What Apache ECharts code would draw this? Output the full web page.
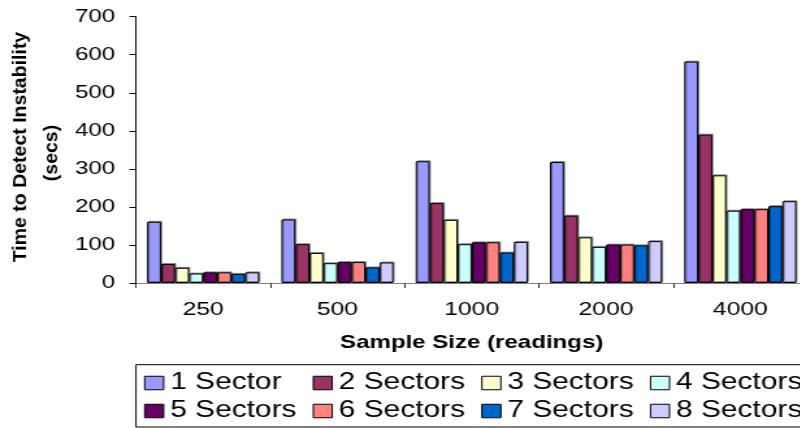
<!DOCTYPE html>
<html>
<head>
<meta charset="utf-8">
<script src="https://cdn.jsdelivr.net/npm/echarts@6/dist/echarts.min.js"></script>
<style>
  html, body { margin: 0; padding: 0; background: #fff; overflow: hidden; width: 800px; height: 428px; }
  #chart { width: 630px; height: 428px; transform: scaleX(1.3); transform-origin: 0 0; }
</style>
</head>
<body>
<div id="chart"></div>
<script>
// Data
const categories = ['250', '500', '1000', '2000', '4000'];
const seriesNames = ['1 Sector', '2 Sectors', '3 Sectors', '4 Sectors', '5 Sectors', '6 Sectors', '7 Sectors', '8 Sectors'];
const sector1 = [161, 167, 320, 318, 582];
const sector2 = [50, 102, 210, 177, 390];
const sector3 = [40, 79, 166, 120, 283];
const sector4 = [25, 52, 102, 95, 190];
const sector5 = [28, 55, 107, 101, 194];
const sector6 = [28, 55, 107, 101, 194];
const sector7 = [24, 41, 80, 99, 202];
const sector8 = [28, 54, 108, 110, 215];
const yTicks = { min: 0, max: 700, interval: 100 };
const xTitle = 'Sample Size (readings)';
const yTitle1 = 'Time to Detect Instability';
const yTitle2 = '(secs)';

const seriesValues = [sector1, sector2, sector3, sector4, sector5, sector6, sector7, sector8];
const colors = ['#9999FF', '#993366', '#FFFFCC', '#CCFFFF', '#660066', '#FF8080', '#0066CC', '#CCCCFF'];
const FONT = '"Liberation Sans", Arial, Helvetica, sans-serif';

const chart = echarts.init(document.getElementById('chart'));
const option = {
  animation: false,
  color: colors,
  grid: { left: 104.6, top: 16.7, width: 516.5, height: 266.3, containLabel: false, outerBoundsMode: 'none' },
  xAxis: {
    type: 'category',
    data: categories,
    name: xTitle,
    nameLocation: 'middle',
    nameGap: 50,
    nameTextStyle: { fontFamily: FONT, fontSize: 18.5, fontWeight: 'bold', color: '#000' },
    axisLine: { lineStyle: { color: '#808080', width: 1 } },
    axisTick: { show: true, length: 5, lineStyle: { color: '#333' } },
    axisLabel: { fontFamily: FONT, fontSize: 19, color: '#000', margin: 17 },
    splitLine: { show: false }
  },
  yAxis: {
    type: 'value',
    min: yTicks.min, max: yTicks.max, interval: yTicks.interval,
    axisLine: { show: true, lineStyle: { color: '#000', width: 1 } },
    axisTick: { show: true, length: 5, lineStyle: { color: '#000' } },
    axisLabel: { fontFamily: FONT, fontSize: 18.5, color: '#000', margin: 16 },
    splitLine: { show: false }
  },
  legend: {
    left: 104.6,
    top: 364.7,
    width: 540,
    orient: 'horizontal',
    itemWidth: 14.6,
    itemHeight: 13.5,
    itemGap: 0,
    padding: [4.3, 6, 2, 6.2],
    borderColor: '#000',
    borderWidth: 1,
    itemStyle: { borderColor: '#000', borderWidth: 1 },
    icon: 'rect',
    textStyle: { fontFamily: FONT, fontSize: 23, color: '#000', width: 109.6, lineHeight: 28, overflow: 'none' },
    data: seriesNames
  },
  graphic: [
    {
      type: 'text', x: 16.2, y: 147, rotation: Math.PI / 2, scaleX: 1, scaleY: 0.78,
      style: { text: yTitle1, font: 'bold 19.5px ' + FONT, fill: '#000', textAlign: 'center', textVerticalAlign: 'middle', align: 'center', verticalAlign: 'middle' }
    },
    {
      type: 'text', x: 39.8, y: 153, rotation: Math.PI / 2, scaleX: 1, scaleY: 0.78,
      style: { text: yTitle2, font: 'bold 19.5px ' + FONT, fill: '#000', textAlign: 'center', textVerticalAlign: 'middle', align: 'center', verticalAlign: 'middle' }
    }
  ],
  series: seriesNames.map((name, i) => ({
    name: name,
    type: 'bar',
    data: seriesValues[i],
    barGap: '0%',
    barCategoryGap: '16.5%',
    itemStyle: {
      color: colors[i],
      borderColor: '#000',
      borderWidth: 1,
      shadowColor: 'rgba(0,0,0,0.35)',
      shadowBlur: 0,
      shadowOffsetX: 1,
      shadowOffsetY: -1
    },
    emphasis: { disabled: true }
  }))
};
chart.setOption(option);
</script>
</body>
</html>
